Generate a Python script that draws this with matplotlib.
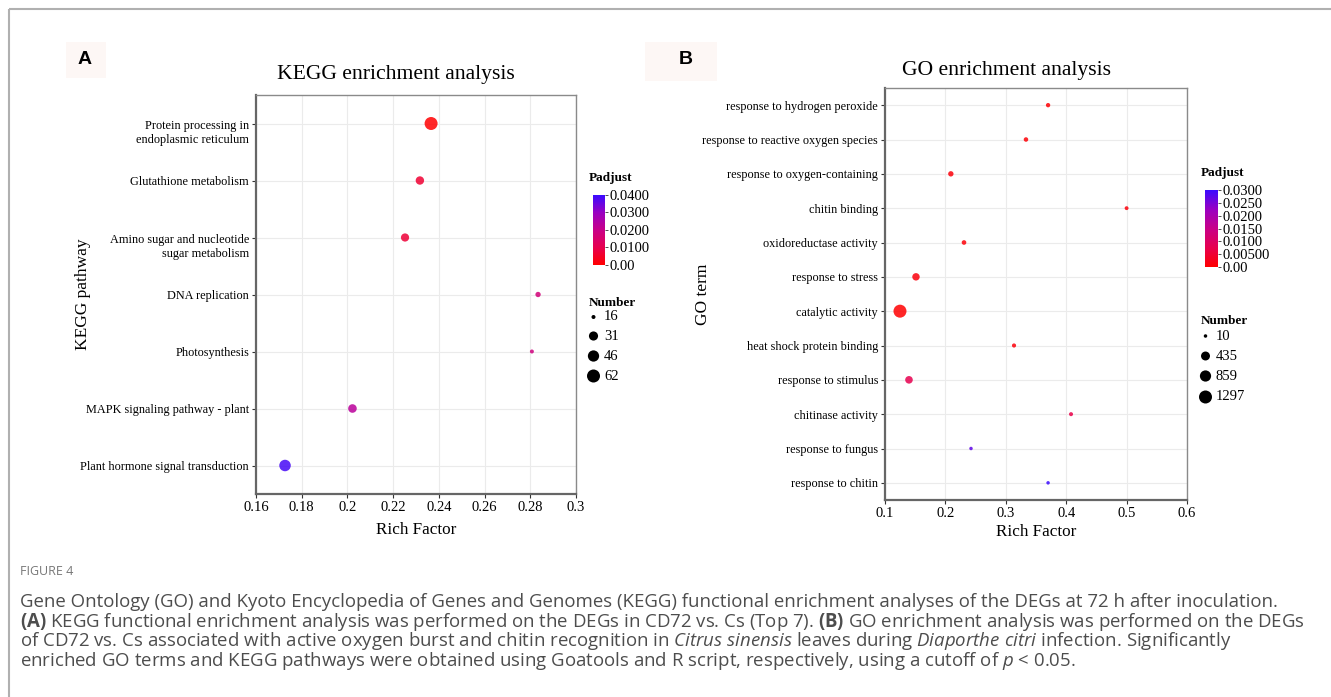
import numpy as np
import matplotlib
matplotlib.use("Agg")
import matplotlib.pyplot as plt
from matplotlib.colors import LinearSegmentedColormap, Normalize
from matplotlib.cm import ScalarMappable
from matplotlib.patches import Rectangle

plt.rcParams['font.family'] = 'Liberation Serif'
plt.rcParams['mathtext.fontset'] = 'custom'
plt.rcParams['mathtext.rm'] = 'Open Sans'
plt.rcParams['mathtext.it'] = 'Open Sans:italic'
plt.rcParams['mathtext.bf'] = 'Open Sans:bold'

# KEGG panel (A)
kegg_terms = ["Protein processing in\nendoplasmic reticulum", "Glutathione metabolism",
              "Amino sugar and nucleotide\nsugar metabolism", "DNA replication",
              "Photosynthesis", "MAPK signaling pathway - plant",
              "Plant hormone signal transduction"]
kegg_rich = [0.2366, 0.2317, 0.2252, 0.2834, 0.2807, 0.2022, 0.1727]
kegg_padj = [0.0003, 0.0065, 0.007, 0.017, 0.018, 0.023, 0.0385]
kegg_num = [62, 27, 26, 17, 16, 28, 48]
kegg_size_breaks = [16, 31, 46, 62]
kegg_padj_ticks = [0.0, 0.01, 0.02, 0.03, 0.04]
kegg_padj_labels = ["0.00", "0.0100", "0.0200", "0.0300", "0.0400"]

# GO panel (B)
go_terms = ["response to hydrogen peroxide", "response to reactive oxygen species",
            "response to oxygen-containing", "chitin binding", "oxidoreductase activity",
            "response to stress", "catalytic activity", "heat shock protein binding",
            "response to stimulus", "chitinase activity", "response to fungus",
            "response to chitin"]
go_rich = [0.370, 0.3334, 0.209, 0.500, 0.2308, 0.1513, 0.1248, 0.3136, 0.1397, 0.408, 0.2424, 0.370]
go_padj = [0.0005, 0.0006, 0.001, 0.001, 0.0008, 0.0012, 0.0002, 0.001, 0.0075, 0.007, 0.027, 0.030]
go_num = [20, 24, 60, 12, 28, 230, 1297, 16, 250, 14, 10, 10]
go_size_breaks = [10, 435, 859, 1297]
go_padj_ticks = [0.0, 0.005, 0.01, 0.015, 0.02, 0.025, 0.03]
go_padj_labels = ["0.00", "0.00500", "0.0100", "0.0150", "0.0200", "0.0250", "0.0300"]

caption_lines = [
    "Gene Ontology (GO) and Kyoto Encyclopedia of Genes and Genomes (KEGG) functional enrichment analyses of the DEGs at 72 h after inoculation.",
    r"$\mathbf{(A)}$ KEGG functional enrichment analysis was performed on the DEGs in CD72 vs. Cs (Top 7). $\mathbf{(B)}$ GO enrichment analysis was performed on the DEGs",
    r"of CD72 vs. Cs associated with active oxygen burst and chitin recognition in $\mathit{Citrus\ sinensis}$ leaves during $\mathit{Diaporthe\ citri}$ infection. Significantly",
    r"enriched GO terms and KEGG pathways were obtained using Goatools and R script, respectively, using a cutoff of $\mathit{p}$ < 0.05.",
]

W, H = 1331, 697
cmap = LinearSegmentedColormap.from_list(
    "padj", ["#FF0000", "#E7004F", "#C80088", "#9900C2", "#3A0AFF"])


def dot_size(n, nmin, nmax, dmin, dmax):
    t = (np.asarray(n, float) - nmin) / (nmax - nmin)
    d = dmin + np.sqrt(np.clip(t, 0, 1)) * (dmax - dmin)
    return (d * 0.72) ** 2


def fbox(x0, y0, x1, y1):
    return [x0 / W, 1 - y1 / H, (x1 - x0) / W, (y1 - y0) / H]


fig = plt.figure(figsize=(W / 100, H / 100), dpi=100)
ov = fig.add_axes([0, 0, 1, 1], zorder=-1)
ov.set_xlim(0, W)
ov.set_ylim(H, 0)
ov.axis('off')


def panel(box, terms, rich, padj, num, xticks, vmax, breaks, dlim, title, title_xy,
          ylab, ylab_x, xlab_pad, cbox, cticks, clabels, leg):
    ax = fig.add_axes(fbox(*box))
    y = np.arange(len(terms))
    norm = Normalize(0, vmax)
    ax.scatter(rich, y, s=dot_size(num, breaks[0], breaks[-1], *dlim),
               c=padj, cmap=cmap, norm=norm, alpha=0.85, linewidths=0, zorder=3)
    ax.set_ylim(len(terms) - 0.5, -0.5)
    ax.set_xlim(xticks[0], xticks[-1])
    ax.set_xticks(xticks)
    ax.set_xticklabels(["%g" % v for v in xticks], fontsize=10.5)
    ax.set_yticks(y)
    # two-line labels: first line on the tick, second hanging below
    ax.set_yticklabels([("\n" + t) if "\n" in t else t for t in terms], fontsize=8.8)
    ax.grid(True, color='#EBEBEB', lw=0.8)
    ax.set_axisbelow(True)
    ax.tick_params(direction='out', length=3, width=0.8, color='#333333', pad=2)
    for side in ['top', 'right']:
        ax.spines[side].set_color('#8a8a8a')
        ax.spines[side].set_linewidth(1.0)
    for side in ['left', 'bottom']:
        ax.spines[side].set_color('#666666')
        ax.spines[side].set_linewidth(1.6)
    ax.set_xlabel("Rich Factor", fontsize=12.3, labelpad=xlab_pad)
    ax.set_ylabel(ylab, fontsize=12.5)
    ax.yaxis.set_label_coords(ylab_x, 0.5)
    ov.text(title_xy[0], title_xy[1], title, fontsize=15.6, ha='center', va='center')

    cax = fig.add_axes(fbox(*cbox))
    cb = fig.colorbar(ScalarMappable(norm=norm, cmap=cmap), cax=cax)
    cb.outline.set_visible(False)
    cb.set_ticks(cticks)
    cb.set_ticklabels(clabels)
    cb.ax.tick_params(length=2.5, width=0.6, labelsize=10.5, pad=1, color='#333333')

    lx, ly_pad, ly_num, ly_dots = leg
    ov.text(lx, ly_pad, "Padjust", fontsize=9.5, fontweight='bold', va='center')
    ov.text(lx, ly_num, "Number", fontsize=9.5, fontweight='bold', va='center')
    ov.scatter([lx + 4.5] * len(breaks), ly_dots,
               s=dot_size(breaks, breaks[0], breaks[-1], *dlim), color='black', lw=0)
    for b, yy in zip(breaks, ly_dots):
        ov.text(lx + 15, yy, str(b), fontsize=10.5, va='center')
    return ax


panel((256, 95, 576, 494), kegg_terms, kegg_rich, kegg_padj, kegg_num,
      np.round(np.arange(0.16, 0.301, 0.02), 2), 0.04, kegg_size_breaks, (4.0, 13.0),
      "KEGG enrichment analysis", (396, 75), "KEGG pathway", -0.515, 6,
      (593, 195, 605, 265), kegg_padj_ticks, kegg_padj_labels,
      (589, 178, 303, [317, 336, 356, 376]))

panel((885, 88, 1187, 500), go_terms, go_rich, go_padj, go_num,
      np.round(np.arange(0.1, 0.601, 0.1), 1), 0.03, go_size_breaks, (3.5, 13.0),
      "GO enrichment analysis", (1006, 71), "GO term", -0.576, 3,
      (1205, 190, 1218, 267), go_padj_ticks, go_padj_labels,
      (1201, 173, 321, [336, 356, 376, 397]))

# panel letters
ov.add_patch(Rectangle((66, 42), 40, 36, color='#FDF7F5', lw=0))
ov.text(85, 60, "A", family='Liberation Sans', fontweight='bold', fontsize=14,
        ha='center', va='center')
ov.add_patch(Rectangle((645, 42), 72, 39, color='#FDF7F5', lw=0))
ov.text(686, 60, "B", family='Liberation Sans', fontweight='bold', fontsize=14,
        ha='center', va='center')

# outer frame
ov.plot([9, W], [9, 9], color='#B0B0B0', lw=1.5, solid_capstyle='butt')
ov.plot([9, 9], [9, H], color='#B0B0B0', lw=1.5, solid_capstyle='butt')

# caption
ov.text(20, 575, "FIGURE 4", family='Open Sans', fontsize=9, color='#777777')
for i, line in enumerate(caption_lines):
    ov.text(20, 607 + i * 19.7, line, family='Open Sans', fontsize=13.4,
            color='#4d4d4d', va='baseline')

fig.savefig("out.png", dpi=100)
